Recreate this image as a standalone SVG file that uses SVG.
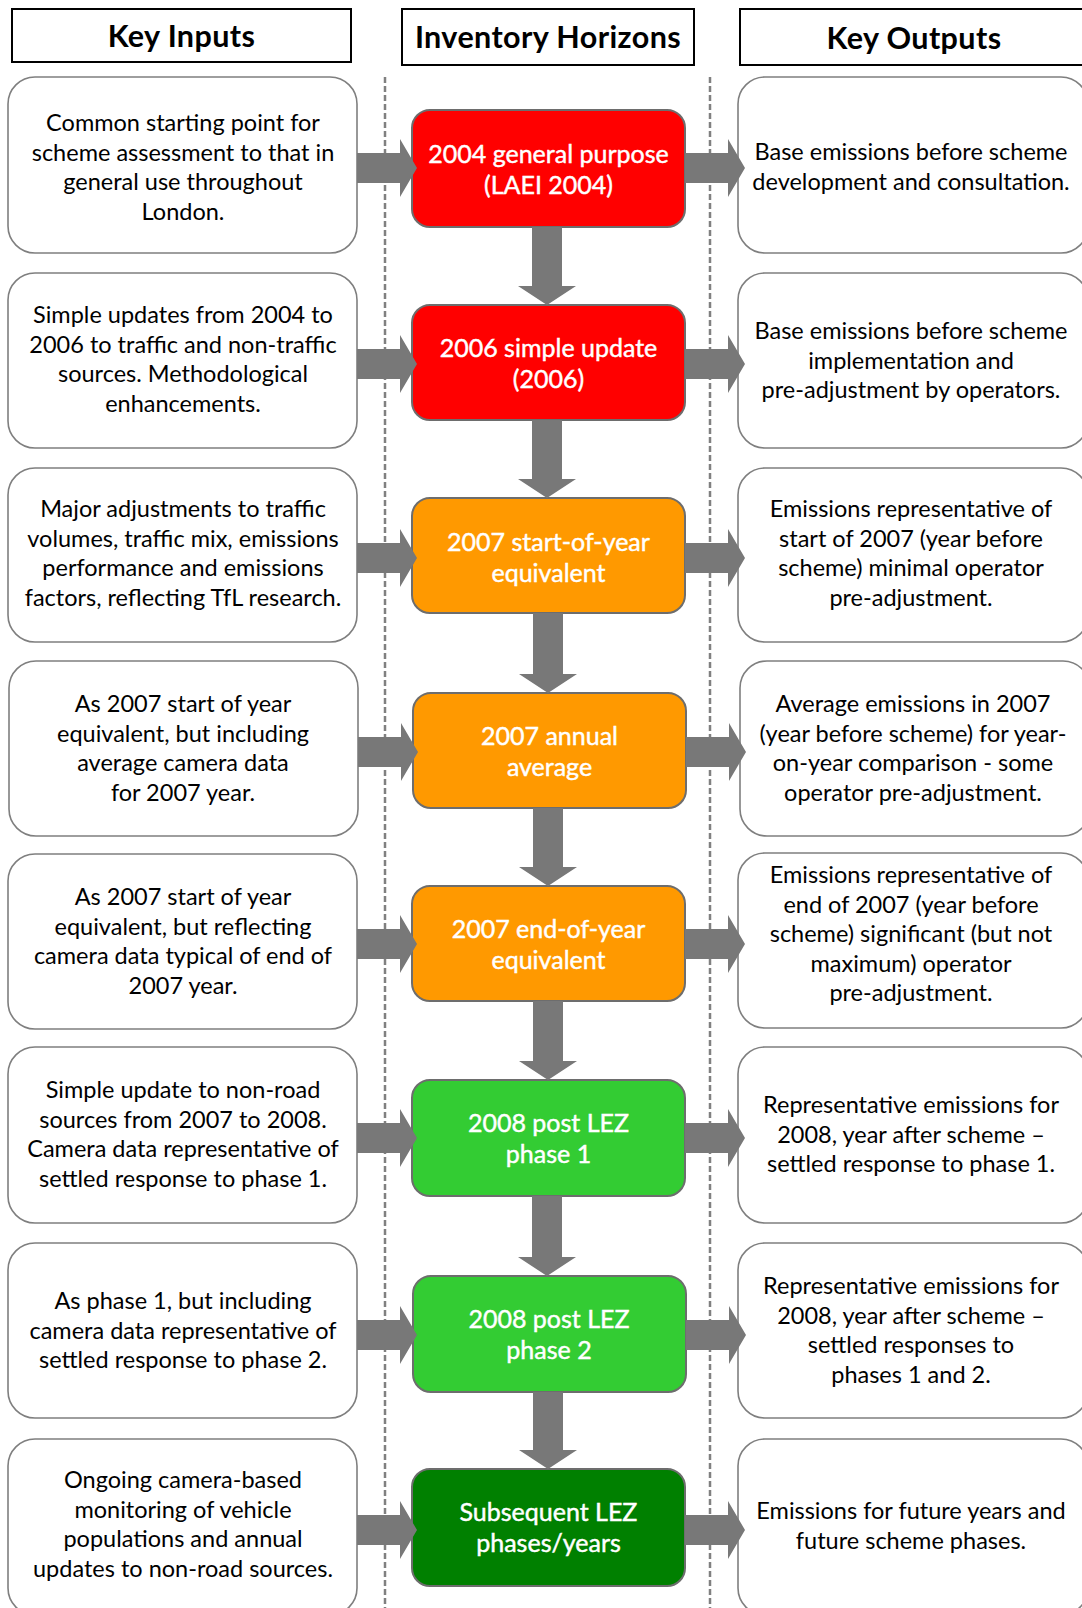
<svg xmlns="http://www.w3.org/2000/svg" width="1082" height="1608" viewBox="0 0 1082 1608">
<style>
.bg{fill:#ffffff}
.hdr{fill:#ffffff;stroke:#000000;stroke-width:2}
.hdrt{font-family:Lato,"Open Sans","Liberation Sans",sans-serif;font-weight:bold;font-size:30.5px;fill:#000000;text-anchor:middle;letter-spacing:0.4px}
.side{fill:#ffffff;stroke:#7f7f7f;stroke-width:1.6}
.st{font-family:Lato,"Open Sans","Liberation Sans",sans-serif;font-size:23.5px;fill:#000000;text-anchor:middle}
.mid{stroke:#6d6d6d;stroke-width:2}
.mt{font-family:Lato,"Open Sans","Liberation Sans",sans-serif;font-size:25px;fill:#ffffff;stroke:#ffffff;stroke-width:0.45;text-anchor:middle}
.red{fill:#ff0000}
.org{fill:#ff9900}
.lgr{fill:#33cc33}
.dgr{fill:#008000}
.arr{fill:#787878}
.dash{stroke:#808080;stroke-width:2.5;stroke-dasharray:6 3;fill:none}
</style>
<rect class="bg" x="0" y="0" width="1082" height="1608"/>
<g id="dividers">
<line class="dash" x1="385" y1="77" x2="385" y2="1608"/>
<line class="dash" x1="710" y1="77" x2="710" y2="1608"/>
</g>
<g id="header-inputs"><rect class="hdr" x="12" y="9" width="339" height="53"/><text class="hdrt" x="181.5" y="46.5">Key Inputs</text></g>
<g id="header-horizons"><rect class="hdr" x="402" y="9" width="292" height="56"/><text class="hdrt" x="548" y="48">Inventory Horizons</text></g>
<g id="header-outputs"><rect class="hdr" x="740" y="9" width="348" height="56"/><text class="hdrt" x="914" y="49">Key Outputs</text></g>

<g id="input-1"><rect class="side" x="8" y="77" width="349" height="176" rx="27"/><text class="st"><tspan x="183" y="131">Common starting point for</tspan><tspan x="183" y="160.5">scheme assessment to that in</tspan><tspan x="183" y="190">general use throughout</tspan><tspan x="183" y="219.5">London.</tspan></text></g>
<g id="input-2"><rect class="side" x="8" y="273" width="349" height="175" rx="27"/><text class="st"><tspan x="183" y="323">Simple updates from 2004 to</tspan><tspan x="183" y="352.5">2006 to traffic and non-traffic</tspan><tspan x="183" y="382">sources. Methodological</tspan><tspan x="183" y="411.5">enhancements.</tspan></text></g>
<g id="input-3"><rect class="side" x="8" y="468" width="349" height="174" rx="27"/><text class="st"><tspan x="183" y="517">Major adjustments to traffic</tspan><tspan x="183" y="546.5">volumes, traffic mix, emissions</tspan><tspan x="183" y="576">performance and emissions</tspan><tspan x="183" y="605.5">factors, reflecting TfL research.</tspan></text></g>
<g id="input-4"><rect class="side" x="9" y="661" width="349" height="175" rx="27"/><text class="st"><tspan x="183" y="712">As 2007 start of year</tspan><tspan x="183" y="741.5">equivalent, but including</tspan><tspan x="183" y="771">average camera data</tspan><tspan x="183" y="800.5">for 2007 year.</tspan></text></g>
<g id="input-5"><rect class="side" x="8" y="854" width="349" height="175" rx="27"/><text class="st"><tspan x="183" y="905">As 2007 start of year</tspan><tspan x="183" y="934.5">equivalent, but reflecting</tspan><tspan x="183" y="964">camera data typical of end of</tspan><tspan x="183" y="993.5">2007 year.</tspan></text></g>
<g id="input-6"><rect class="side" x="8" y="1047" width="349" height="176" rx="27"/><text class="st"><tspan x="183" y="1098">Simple update to non-road</tspan><tspan x="183" y="1127.5">sources from 2007 to 2008.</tspan><tspan x="183" y="1157">Camera data representative of</tspan><tspan x="183" y="1186.5">settled response to phase 1.</tspan></text></g>
<g id="input-7"><rect class="side" x="8" y="1243" width="349" height="175" rx="27"/><text class="st"><tspan x="183" y="1309">As phase 1, but including</tspan><tspan x="183" y="1338.5">camera data representative of</tspan><tspan x="183" y="1368">settled response to phase 2.</tspan></text></g>
<g id="input-8"><rect class="side" x="8" y="1439" width="349" height="176" rx="27"/><text class="st"><tspan x="183" y="1488">Ongoing camera-based</tspan><tspan x="183" y="1517.5">monitoring of vehicle</tspan><tspan x="183" y="1547">populations and annual</tspan><tspan x="183" y="1576.5">updates to non-road sources.</tspan></text></g>

<g id="horizon-1"><rect class="mid red" x="412" y="110" width="273" height="117" rx="18"/><text class="mt"><tspan x="548.5" y="163">2004 general purpose</tspan><tspan x="548.5" y="194">(LAEI 2004)</tspan></text></g>
<g id="horizon-2"><rect class="mid red" x="412" y="305" width="273" height="115" rx="18"/><text class="mt"><tspan x="548.5" y="357">2006 simple update</tspan><tspan x="548.5" y="388">(2006)</tspan></text></g>
<g id="horizon-3"><rect class="mid org" x="412" y="498" width="273" height="115" rx="18"/><text class="mt"><tspan x="548.5" y="551">2007 start-of-year</tspan><tspan x="548.5" y="582">equivalent</tspan></text></g>
<g id="horizon-4"><rect class="mid org" x="413" y="693" width="273" height="115" rx="18"/><text class="mt"><tspan x="549.5" y="745">2007 annual</tspan><tspan x="549.5" y="776">average</tspan></text></g>
<g id="horizon-5"><rect class="mid org" x="412" y="886" width="273" height="115" rx="18"/><text class="mt"><tspan x="548.5" y="938">2007 end-of-year</tspan><tspan x="548.5" y="969">equivalent</tspan></text></g>
<g id="horizon-6"><rect class="mid lgr" x="412" y="1080" width="273" height="116" rx="18"/><text class="mt"><tspan x="548.5" y="1132">2008 post LEZ</tspan><tspan x="548.5" y="1163">phase 1</tspan></text></g>
<g id="horizon-7"><rect class="mid lgr" x="413" y="1276" width="273" height="116" rx="18"/><text class="mt"><tspan x="549" y="1328">2008 post LEZ</tspan><tspan x="549" y="1359">phase 2</tspan></text></g>
<g id="horizon-8"><rect class="mid dgr" x="412" y="1469" width="273" height="117" rx="18"/><text class="mt"><tspan x="548.5" y="1521">Subsequent LEZ</tspan><tspan x="548.5" y="1552">phases/years</tspan></text></g>

<g id="output-1"><rect class="side" x="738" y="77" width="350" height="176" rx="27"/><text class="st"><tspan x="911" y="160">Base emissions before scheme</tspan><tspan x="911" y="189.5">development and consultation.</tspan></text></g>
<g id="output-2"><rect class="side" x="738" y="273" width="350" height="175" rx="27"/><text class="st"><tspan x="911" y="339">Base emissions before scheme</tspan><tspan x="911" y="368.5">implementation and</tspan><tspan x="911" y="398">pre-adjustment by operators.</tspan></text></g>
<g id="output-3"><rect class="side" x="738" y="468" width="350" height="174" rx="27"/><text class="st"><tspan x="911" y="517">Emissions representative of</tspan><tspan x="911" y="546.5">start of 2007 (year before</tspan><tspan x="911" y="576">scheme) minimal operator</tspan><tspan x="911" y="605.5">pre-adjustment.</tspan></text></g>
<g id="output-4"><rect class="side" x="740" y="661" width="350" height="175" rx="27"/><text class="st"><tspan x="913" y="712">Average emissions in 2007</tspan><tspan x="913" y="741.5">(year before scheme) for year-</tspan><tspan x="913" y="771">on-year comparison - some</tspan><tspan x="913" y="800.5">operator pre-adjustment.</tspan></text></g>
<g id="output-5"><rect class="side" x="738" y="853" width="350" height="175" rx="27"/><text class="st"><tspan x="911" y="883">Emissions representative of</tspan><tspan x="911" y="912.5">end of 2007 (year before</tspan><tspan x="911" y="942">scheme) significant (but not</tspan><tspan x="911" y="971.5">maximum) operator</tspan><tspan x="911" y="1001">pre-adjustment.</tspan></text></g>
<g id="output-6"><rect class="side" x="738" y="1047" width="350" height="176" rx="27"/><text class="st"><tspan x="911" y="1113">Representative emissions for</tspan><tspan x="911" y="1142.5">2008, year after scheme –</tspan><tspan x="911" y="1172">settled response to phase 1.</tspan></text></g>
<g id="output-7"><rect class="side" x="738" y="1243" width="350" height="175" rx="27"/><text class="st"><tspan x="911" y="1294">Representative emissions for</tspan><tspan x="911" y="1323.5">2008, year after scheme –</tspan><tspan x="911" y="1353">settled responses to</tspan><tspan x="911" y="1382.5">phases 1 and 2.</tspan></text></g>
<g id="output-8"><rect class="side" x="738" y="1439" width="350" height="176" rx="27"/><text class="st"><tspan x="911" y="1519">Emissions for future years and</tspan><tspan x="911" y="1548.5">future scheme phases.</tspan></text></g>

<g id="connectors">
<polygon class="arr" points="357,153 400,153 400,139 417,168 400,197 400,183 357,183"/>
<polygon class="arr" points="357,349 400,349 400,335 417,364 400,393 400,379 357,379"/>
<polygon class="arr" points="357,543 400,543 400,529 417,558 400,587 400,573 357,573"/>
<polygon class="arr" points="358,737 401,737 401,723 418,752 401,781 401,767 358,767"/>
<polygon class="arr" points="357,929 400,929 400,915 417,944 400,973 400,959 357,959"/>
<polygon class="arr" points="357,1123 400,1123 400,1109 417,1138 400,1167 400,1153 357,1153"/>
<polygon class="arr" points="357,1320 400,1320 400,1306 417,1335 400,1364 400,1350 357,1350"/>
<polygon class="arr" points="357,1515 400,1515 400,1501 417,1530 400,1559 400,1545 357,1545"/>

<polygon class="arr" points="685,153 728,153 728,139 745,168 728,197 728,183 685,183"/>
<polygon class="arr" points="685,349 728,349 728,335 745,364 728,393 728,379 685,379"/>
<polygon class="arr" points="685,543 728,543 728,529 745,558 728,587 728,573 685,573"/>
<polygon class="arr" points="686,737 729,737 729,723 746,752 729,781 729,767 686,767"/>
<polygon class="arr" points="685,929 728,929 728,915 745,944 728,973 728,959 685,959"/>
<polygon class="arr" points="685,1123 728,1123 728,1109 745,1138 728,1167 728,1153 685,1153"/>
<polygon class="arr" points="686,1320 729,1320 729,1306 746,1335 729,1364 729,1350 686,1350"/>
<polygon class="arr" points="685,1515 728,1515 728,1501 745,1530 728,1559 728,1545 685,1545"/>

<polygon class="arr" points="532,227 562,227 562,286 576,286 547,305 518,286 532,286"/>
<polygon class="arr" points="532,420 562,420 562,479 576,479 547,498 518,479 532,479"/>
<polygon class="arr" points="533,613 563,613 563,674 577,674 548,693 519,674 533,674"/>
<polygon class="arr" points="533,808 563,808 563,867 577,867 548,886 519,867 533,867"/>
<polygon class="arr" points="533,1001 563,1001 563,1061 577,1061 548,1080 519,1061 533,1061"/>
<polygon class="arr" points="532,1196 562,1196 562,1257 576,1257 547,1276 518,1257 532,1257"/>
<polygon class="arr" points="533,1392 563,1392 563,1450 577,1450 548,1469 519,1450 533,1450"/>
</g>
</svg>
